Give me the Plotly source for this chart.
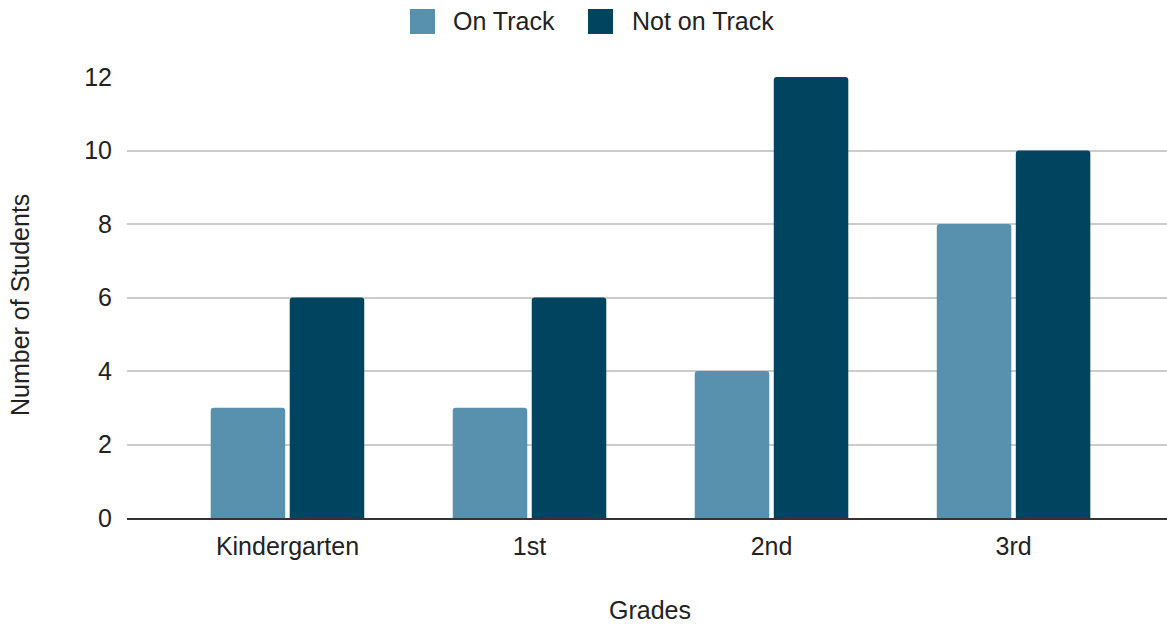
import plotly.graph_objects as go

grades = ["Kindergarten", "1st", "2nd", "3rd"]
on_track = [3, 3, 4, 8]
not_on_track = [6, 6, 12, 10]
series_names = ["On Track", "Not on Track"]
colors = ["#5891ad", "#01445f"]

FONT = "Liberation Sans, Arial, sans-serif"
FS = 25
W, H = 1167, 626
L, R, T, B = 127, 0, 77, 108
pw, ph = W - L - R, H - T - B

def px2paper(x, y):
    return (x - L) / pw, (H - B - y) / ph

fig = go.Figure()
for name, vals, col in zip(series_names, [on_track, not_on_track], colors):
    fig.add_trace(go.Bar(x=grades, y=vals, name=name, marker=dict(color=col, line=dict(width=0), cornerradius=3),
                         showlegend=False))

# manual legend
shapes = []
annotations = []
legend_items = [(410, 451), (588, 630)]
for (sx, tx), name, col in zip(legend_items, series_names, colors):
    x0, y0 = px2paper(sx, 34)
    x1, y1 = px2paper(sx + 25, 9)
    shapes.append(dict(type="rect", xref="paper", yref="paper", x0=x0, y0=y0, x1=x1, y1=y1,
                       fillcolor=col, line=dict(width=0), layer="above"))
    ax, ay = px2paper(tx, 21.5)
    annotations.append(dict(text=name, xref="paper", yref="paper", x=ax, y=ay, xanchor="left", yanchor="middle",
                            showarrow=False, font=dict(family=FONT, size=FS, color="#222222")))

gx, gy = px2paper(650, 610)
annotations.append(dict(text="Grades", xref="paper", yref="paper", x=gx, y=gy, xanchor="center", yanchor="middle",
                        showarrow=False, font=dict(family=FONT, size=FS, color="#222222")))
yx, yy = px2paper(20, 305)
annotations.append(dict(text="Number of Students", xref="paper", yref="paper", x=yx, y=yy, xanchor="center",
                        yanchor="middle", textangle=-90, showarrow=False,
                        font=dict(family=FONT, size=FS, color="#222222")))

fig.update_layout(
    width=W, height=H,
    margin=dict(l=L, r=R, t=T, b=B, pad=0),
    paper_bgcolor="white", plot_bgcolor="white",
    barmode="group", bargap=0.347, bargroupgap=0.057,
    font=dict(family=FONT, size=FS, color="#222222"),
    shapes=shapes, annotations=annotations,
    showlegend=False,
)
fig.update_xaxes(type="category", range=[-0.663, 3.634], showgrid=False, showline=True, linecolor="#333333",
                 linewidth=1.5, ticks="", tickfont=dict(family=FONT, size=FS, color="#222222"),
                 ticklabelstandoff=5)
fig.update_yaxes(range=[0, 12], dtick=2, showgrid=True, gridcolor="#cccccc", gridwidth=1.5,
                 zeroline=False, showline=False, ticks="", ticklabelstandoff=14,
                 tickfont=dict(family=FONT, size=FS, color="#222222"))

fig.write_html("out.html")
